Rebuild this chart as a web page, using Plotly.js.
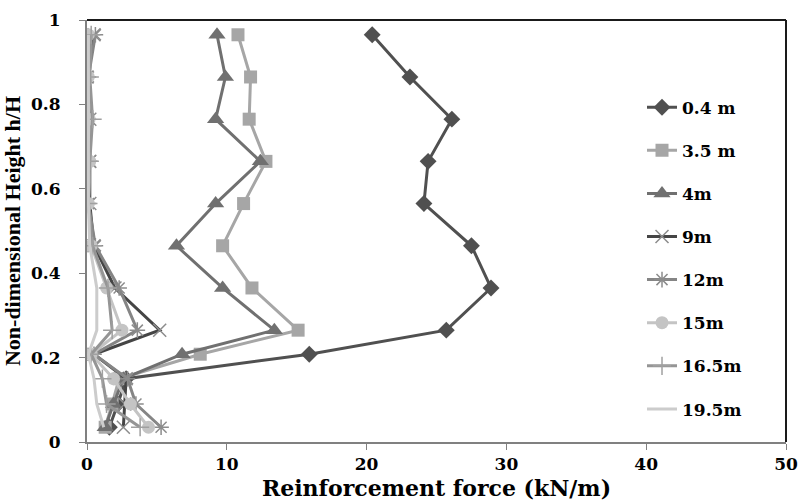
<!DOCTYPE html>
<html>
<head>
<meta charset="utf-8">
<script src="https://cdn.plot.ly/plotly-3.0.1.min.js"></script>
<style>
html,body{margin:0;padding:0;background:#fff;}
#chart{width:799px;height:501px;}
</style>
</head>
<body>
<div id="chart"></div>
<script>
// Non-dimensional heights h/H of the reinforcement layers
const heights = [0.965, 0.865, 0.765, 0.665, 0.565, 0.465, 0.365, 0.265, 0.208, 0.15, 0.09, 0.035];

// Reinforcement force (kN/m) per series
const f_0_4  = [20.4, 23.1, 26.1, 24.4, 24.1, 27.5, 28.9, 25.7, 15.9, 2.8, 2.2, 1.6];
const f_3_5  = [10.8, 11.7, 11.6, 12.8, 11.2, 9.7, 11.8, 15.1, 8.1, 2.3, 1.8, 1.3];
const f_4    = [9.3, 9.9, 9.2, 12.4, 9.2, 6.4, 9.7, 13.4, 6.8, 2.6, 1.9, 1.3];
const f_9    = [0.5, 0.0, 0.2, 0.2, 0.2, 0.5, 2.0, 5.2, 0.5, 2.8, 2.7, 2.6];
const f_12   = [0.6, 0.1, 0.1, 0.2, 0.1, 0.6, 2.3, 3.6, 0.5, 2.9, 3.5, 5.3];
const f_15   = [0.1, 0.1, 0.15, 0.2, 0.1, 0.3, 1.4, 2.5, 0.3, 1.9, 3.1, 4.4];
const f_16_5 = [0.3, 0.2, 0.4, 0.2, 0.1, 0.4, 1.5, 1.8, 0.3, 1.1, 1.4, 3.8];
const f_19_5 = [0.1, 0.1, 0.1, 0.1, 0.1, 0.2, 0.7, 0.7, 0.1, 0.5, 0.7, 1.2];

const seriesNames = ["0.4 m", "3.5 m", "4m", "9m", "12m", "15m", "16.5m", "19.5m"];
const seriesData = [f_0_4, f_3_5, f_4, f_9, f_12, f_15, f_16_5, f_19_5];

// Tick values and labels
const xTickVals = [0, 10, 20, 30, 40, 50];
const xTickLabels = ["0", "10", "20", "30", "40", "50"];
const yTickVals = [0, 0.2, 0.4, 0.6, 0.8, 1];
const yTickLabels = ["0", "0.2", "0.4", "0.6", "0.8", "1"];

const styles = [
  {line: "#505050", marker: {symbol: "diamond", size: 13, color: "#505050"}},
  {line: "#a6a6a6", marker: {symbol: "square", size: 13, color: "#a6a6a6"}},
  {line: "#707070", marker: {symbol: "triangle-up", size: 15, color: "#707070"}},
  {line: "#454545", marker: {symbol: "x-thin-open", size: 13, color: "#8c8c8c", line: {width: 1.5, color: "#8c8c8c"}}},
  {line: "#858585", marker: {symbol: "asterisk-open", size: 13, color: "#8c8c8c", line: {width: 1.5, color: "#8c8c8c"}}},
  {line: "#c4c4c4", marker: {symbol: "circle", size: 13, color: "#c4c4c4"}},
  {line: "#959595", marker: {symbol: "cross-thin-open", size: 13, color: "#a0a0a0", line: {width: 1.5, color: "#a0a0a0"}}},
  {line: "#cccccc", marker: null}
];

const traces = seriesNames.map((name, i) => {
  const s = styles[i];
  const t = {
    type: "scatter",
    x: seriesData[i],
    y: heights,
    name: "<b>" + name + "</b>",
    legendgroup: "g" + i,
    mode: s.marker ? "lines+markers" : "lines",
    line: {color: s.line, width: 3}
  };
  if (s.marker) t.marker = s.marker;
  return t;
});

const wideFam = "DejaVu Serif, serif";
const serifFam = "Liberation Serif, Times New Roman, serif";

const layout = {
  width: 799, height: 501,
  margin: {l: 87, r: 13, t: 20, b: 59},
  paper_bgcolor: "#ffffff",
  plot_bgcolor: "#ffffff",
  showlegend: true,
  legend: {
    x: 0.794, y: 0.835, xanchor: "left", yanchor: "top",
    traceorder: "grouped", tracegroupgap: 18,
    font: {family: wideFam, size: 17, color: "#000"},
    bgcolor: "rgba(0,0,0,0)"
  },
  xaxis: {
    range: [0, 50],
    tickmode: "array", tickvals: xTickVals, ticktext: xTickLabels,
    showgrid: false, zeroline: false,
    showline: true, linecolor: "#808080", linewidth: 2,
    ticks: "outside", ticklen: 6, tickcolor: "#808080",
    tickfont: {family: wideFam, size: 17, color: "#000", weight: 700},
    title: {text: "<b>Reinforcement force (kN/m)</b>", font: {family: wideFam, size: 22, color: "#000"}, standoff: 9}
  },
  yaxis: {
    range: [0, 1],
    tickmode: "array", tickvals: yTickVals, ticktext: yTickLabels,
    showgrid: false, zeroline: false,
    showline: true, linecolor: "#808080", linewidth: 2,
    ticks: "outside", ticklen: 6, tickcolor: "#808080",
    ticklabelstandoff: 15,
    tickfont: {family: wideFam, size: 17, color: "#000", weight: 700},
    title: {text: "<b>Non-dimensional Height h/H</b>", font: {family: serifFam, size: 22, color: "#000"}, standoff: 4}
  },
  shapes: [
    {type: "line", xref: "paper", yref: "paper", x0: 0, x1: 1, y0: 1, y1: 1, line: {color: "#1a1a1a", width: 2}},
    {type: "line", xref: "paper", yref: "paper", x0: 1, x1: 1, y0: 0, y1: 1, line: {color: "#1a1a1a", width: 2}}
  ]
};

const gd = document.getElementById("chart");
function boldTicks() {
  gd.querySelectorAll("g.xtick text, g.ytick text").forEach(t => {
    t.style.setProperty("font-weight", "700", "important");
  });
}
Plotly.newPlot(gd, traces, layout, {displayModeBar: false, staticPlot: true}).then(() => {
  boldTicks();
  gd.on("plotly_afterplot", boldTicks);
});
</script>
</body>
</html>
